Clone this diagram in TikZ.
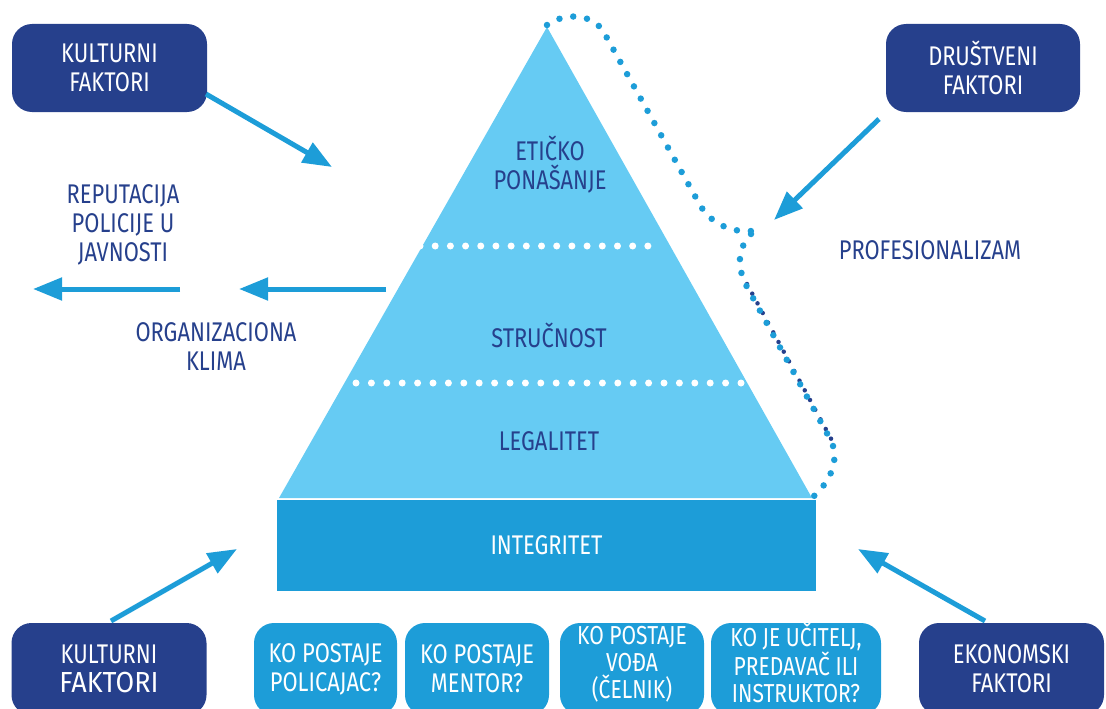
\documentclass[tikz,border=0pt]{standalone}
\usepackage{fontspec}
\setmainfont{Fira Sans}[FakeStretch=0.81]
\newfontfamily\widefont{Fira Sans}[FakeStretch=0.93]
\usetikzlibrary{arrows.meta}
\definecolor{dkblue}{HTML}{26408C}
\definecolor{midblue}{HTML}{1D9DD8}
\definecolor{ltblue}{HTML}{66CBF3}
\tikzset{
  txt/.style={font=\fontsize{27}{29}\selectfont, align=center, inner sep=0pt},
  dkbox/.style={txt, fill=dkblue, text=white, rounded corners=20pt},
  qbox/.style={txt, fill=midblue, text=white, rounded corners=20pt},
  lbl/.style={txt, text=dkblue},
  arr/.style={draw=midblue, line width=5pt, -{Triangle[length=29pt,width=22pt]}},
  bluedots/.style={draw=midblue, line width=6.5pt, line cap=round, dash pattern=on 0pt off 14pt},
  darkdots/.style={draw=dkblue, line width=4.5pt, line cap=round, dash pattern=on 0pt off 11pt},
  whitedots/.style={draw=white, line width=7pt, line cap=round},
}
\begin{document}
\begin{tikzpicture}[x=1pt,y=-1pt]
\useasboundingbox (0,0) rectangle (1106,709);
% pyramid
\fill[ltblue] (547,27) -- (812,498) -- (279,498) -- cycle;
\node[txt, fill=midblue, text=white, minimum width=539pt, minimum height=91pt] (integ) at (546.5,545.5) {INTEGRITET};
\draw[whitedots, dash pattern=on 0pt off 15.19pt] (420,246) -- (663,246);
\draw[whitedots, dash pattern=on 0pt off 15.4pt] (356,383) -- (741,383);
\node[lbl] (etika) at (550,165) {ETIČKO\\PONAŠANJE};
\node[lbl] (struc) at (549,335) {STRUČNOST};
\node[lbl] (legal) at (549,441) {LEGALITET};
% dotted professionalism outline
\draw[darkdots] (747,284) -- (835,446);
\draw[bluedots] (547,25) .. controls (565,12) and (596,12) .. (607,38) -- (700,205) .. controls (712,226) and (738,236) .. (763,229);
\draw[bluedots] (751,234) .. controls (738,248) and (736,266) .. (747,287) -- (829,437) .. controls (842,458) and (830,482) .. (813,497);
\node[lbl] (prof) at (930,250) {PROFESIONALIZAM};
% boxes
\node[dkbox, minimum width=195pt, minimum height=88pt] (kf1) at (109.5,68) {KULTURNI\\FAKTORI};
\node[dkbox, minimum width=194pt, minimum height=88pt] (df) at (983,68) {DRUŠTVENI\\FAKTORI};
\node[dkbox, minimum width=195pt, minimum height=92pt] (kf2) at (109,669) {KULTURNI\\{\widefont\fontsize{29}{29}\selectfont FAKTORI}};
\node[dkbox, minimum width=185pt, minimum height=92pt] (ek) at (1011.5,669) {EKONOMSKI\\FAKTORI};
\node[qbox, minimum width=143pt, minimum height=92pt] (q1) at (325.5,669) {KO POSTAJE\\POLICAJAC?};
\node[qbox, minimum width=144pt, minimum height=92pt] (q2) at (477,669) {KO POSTAJE\\MENTOR?};
\node[qbox, minimum width=144pt, minimum height=92pt] (q3) at (632,669) {};
\node[qbox, minimum width=170pt, minimum height=92pt] (q4) at (796,669) {};
\node[txt, text=white, font=\fontsize{26}{27}\selectfont] (q3t) at (632,664) {KO POSTAJE\\VOĐA\\(ČELNIK)};
\node[txt, text=white, font=\fontsize{26}{27}\selectfont] (q4t) at (796,663) {KO JE UČITELJ,\\PREDAVAČ ILI\\INSTRUKTOR?};
% side labels
\node[lbl] (rep) at (123,225) {REPUTACIJA\\POLICIJE U\\JAVNOSTI};
\node[lbl] (org) at (216,347) {ORGANIZACIONA\\KLIMA};
% arrows
\coordinate (a1s) at (206,94);  \coordinate (a1e) at (332,167);
\coordinate (a2s) at (879,119); \coordinate (a2e) at (774,220);
\coordinate (a3s) at (386,289); \coordinate (a3e) at (239,289);
\coordinate (a4s) at (180,289); \coordinate (a4e) at (33,289);
\coordinate (a5s) at (111,621); \coordinate (a5e) at (237,549);
\coordinate (a6s) at (985,621); \coordinate (a6e) at (858,549);
\draw[arr] (a1s) -- (a1e);
\draw[arr] (a2s) -- (a2e);
\draw[arr] (a3s) -- (a3e);
\draw[arr] (a4s) -- (a4e);
\draw[arr] (a5s) -- (a5e);
\draw[arr] (a6s) -- (a6e);
\end{tikzpicture}
\end{document}
